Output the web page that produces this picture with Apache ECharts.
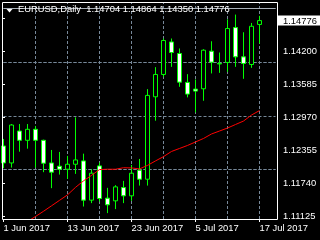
<!DOCTYPE html>
<html><head><meta charset="utf-8">
<script src="https://cdn.jsdelivr.net/npm/echarts/dist/echarts.min.js"></script>
<style>html,body{margin:0;padding:0;background:#000;}#c{width:320px;height:240px;}</style>
</head><body><div id="c"></div>
<script>
const dates = ["1 Jun 2017","2 Jun 2017","5 Jun 2017","6 Jun 2017","7 Jun 2017","8 Jun 2017","9 Jun 2017","12 Jun 2017","13 Jun 2017","14 Jun 2017","15 Jun 2017","16 Jun 2017","19 Jun 2017","20 Jun 2017","21 Jun 2017","22 Jun 2017","23 Jun 2017","26 Jun 2017","27 Jun 2017","28 Jun 2017","29 Jun 2017","30 Jun 2017","3 Jul 2017","4 Jul 2017","5 Jul 2017","6 Jul 2017","7 Jul 2017","10 Jul 2017","11 Jul 2017","12 Jul 2017","13 Jul 2017","14 Jul 2017","17 Jul 2017"];
const opens  = [1.12439,1.12123,1.12718,1.12545,1.12750,1.12545,1.12123,1.12062,1.12006,1.12099,1.12161,1.11430,1.12068,1.11467,1.11417,1.11664,1.11510,1.11988,1.11820,1.13356,1.13772,1.14378,1.14163,1.13624,1.13499,1.13505,1.14206,1.13977,1.13996,1.14646,1.14100,1.13958,1.14704];
const highs  = [1.12570,1.12848,1.12848,1.12848,1.12811,1.12557,1.12365,1.12328,1.12254,1.12973,1.12296,1.12006,1.12129,1.11659,1.11709,1.11789,1.12086,1.12198,1.13499,1.13908,1.14442,1.14442,1.14256,1.13778,1.13679,1.14243,1.14391,1.14181,1.14800,1.14888,1.14559,1.14732,1.14864];
const lows   = [1.12025,1.12036,1.12333,1.12389,1.12036,1.11951,1.11653,1.11906,1.11826,1.11919,1.11311,1.11374,1.11404,1.11188,1.11263,1.11374,1.11417,1.11701,1.11701,1.12910,1.13728,1.13914,1.13542,1.13345,1.13066,1.13282,1.13791,1.13802,1.13821,1.13914,1.13691,1.13895,1.14350];
const closes = [1.12123,1.12830,1.12545,1.12750,1.12545,1.12118,1.11951,1.12006,1.12099,1.12179,1.11430,1.11932,1.11460,1.11343,1.11677,1.11510,1.11932,1.11820,1.13382,1.13772,1.14405,1.14181,1.13629,1.13406,1.13462,1.14224,1.14001,1.13968,1.14628,1.14100,1.13977,1.14670,1.14776];
const maValues = [null,null,null,1.11032,1.11125,1.11222,1.11324,1.11426,1.11528,1.11668,1.11789,1.11891,1.12000,1.12006,1.12006,1.12034,1.12030,1.12012,1.12077,1.12161,1.12241,1.12337,1.12393,1.12449,1.12514,1.12579,1.12663,1.12718,1.12774,1.12839,1.12904,1.13016,1.13099];
const priceTicks = ["1.11125","1.11740","1.12355","1.12970","1.13585","1.14200","1.14815"];
const priceLabels = ["1.11125","1.11740","1.12355","1.12970","1.13585","1.14200",""];
const vGridDates = ["7 Jun 2017","13 Jun 2017","19 Jun 2017","23 Jun 2017","29 Jun 2017","5 Jul 2017","11 Jul 2017","17 Jul 2017"];
const currentPrice = 1.14776;
const titleText = "EURUSD,Daily  1.14704 1.14864 1.14350 1.14776";

const cats = dates.concat(["",""]);
const candleData = opens.map((o,i)=>[o, closes[i], lows[i], highs[i]]);
const yMin = 1.110784, yMax = 1.151225;
const FONT = "Liberation Sans";
const FS = 9.4;
const gridColor = "#778899";
const dash = { color: gridColor, type:[3,2], width:1 };

const plotLeft = 2, plotRight = 277, plotTop = 2, plotBottom = 219;
const yPix = (p)=> plotBottom - (p - yMin) / (yMax - yMin) * (plotBottom - plotTop);
const hTop = yPix(parseFloat(priceTicks[priceTicks.length-1]));
const hBot = yPix(parseFloat(priceTicks[0]));
const OB = { outerBoundsMode: 'none', containLabel: false, show: false };

const gridMarks = priceTicks.map(p => ({ yAxis: parseFloat(p), lineStyle: dash }))
  .concat(vGridDates.map(d => ({ xAxis: d, lineStyle: dash })))
  .concat([{ yAxis: currentPrice, lineStyle: { color:'#a8b0b8', type:'solid', width:1 } }]);

const chart = echarts.init(document.getElementById('c'), null, {renderer:'canvas'});
chart.setOption({
  backgroundColor: '#000',
  animation: false,
  title: { text: titleText, left: 18, top: 5, padding: 0,
    textStyle: { color:'#fff', fontFamily: FONT, fontSize: FS, fontWeight: 'normal' } },
  graphic: [
    { type:'polygon', shape:{ points:[[6.5,9],[12.5,9],[9.5,12.5]] }, style:{ fill:'#fff' }, z: 100 },
    { type:'rect', shape:{ x: plotLeft + 0.5, y: plotTop + 0.5, width: plotRight - plotLeft, height: plotBottom - plotTop }, style:{ fill: null, stroke:'#fff', lineWidth: 1 }, z: 50, silent: true }
  ],
  grid: [
    Object.assign({ left: 3.5, width: 272, top: plotTop, height: plotBottom - plotTop }, OB),
    Object.assign({ left: plotLeft, width: plotRight - plotLeft, top: plotTop, height: plotBottom - plotTop }, OB),
    Object.assign({ left: plotLeft, width: plotRight - plotLeft, top: hTop, height: hBot - hTop }, OB)
  ],
  xAxis: [
    { type:'category', gridIndex:0, data: cats, boundaryGap:false,
      axisLine:{ show:false },
      axisTick:{ show:true, length:3, lineStyle:{ color:'#fff' }, interval: 7 },
      axisLabel:{ color:'#fff', fontFamily: FONT, fontSize: FS, align:'left', margin: 5, interval: 7, hideOverlap: false },
      splitLine:{ show:false }
    },
    { type:'value', gridIndex:1, show:false, min:0, max:1, splitLine:{show:false} },
    { type:'value', gridIndex:2, show:false, min:0, max:1, splitLine:{show:false} }
  ],
  yAxis: [
    { type:'value', gridIndex:0, min:yMin, max:yMax, show:false, splitLine:{show:false} },
    { type:'value', gridIndex:1, min:yMin, max:yMax, position:'right',
      axisLine:{ show:false },
      axisTick:{ show:false },
      axisLabel:{ margin: 1, customValues: [currentPrice],
        formatter: ()=> '{b|' + currentPrice.toFixed(5) + '}',
        rich:{ b:{ color:'#000', backgroundColor:'#fff', fontFamily: FONT, fontSize: FS, padding:[1,5,0,5], lineHeight: 10 } } },
      splitLine:{ show:false }
    },
    { type:'value', gridIndex:2, min:0, max:6, interval:1, position:'right',
      axisLine:{ show:false },
      axisTick:{ show:true, length:3, lineStyle:{ color:'#fff' } },
      axisLabel:{ color:'#fff', fontFamily: FONT, fontSize: FS, margin: 6, formatter: (v)=> priceLabels[Math.round(v)] },
      splitLine:{ show:false }
    }
  ],
  series: [
    { type:'candlestick', xAxisIndex:0, yAxisIndex:0, data: candleData, barWidth: 5, clip: false, z: 2,
      itemStyle:{ color:'#000', color0:'#fff', borderColor:'#00ff00', borderColor0:'#00ff00', borderWidth:1 }
    },
    { type:'line', xAxisIndex:0, yAxisIndex:0, data: maValues, showSymbol:false, symbol:'none', clip: true,
      lineStyle:{ color:'#ff0000', width:1 }, z: 3,
      markLine:{ symbol:'none', silent:true, z: 1, animation:false,
        label:{ show:false }, emphasis:{ disabled:true },
        data: gridMarks }
    }
  ]
});
</script></body></html>
